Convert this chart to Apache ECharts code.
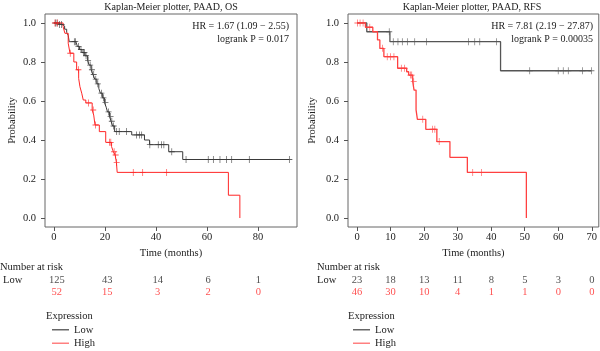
<!DOCTYPE html>
<html>
<head>
<meta charset="utf-8">
<script src="https://cdn.jsdelivr.net/npm/echarts@6/dist/echarts.min.js"></script>
<style>
html, body { margin: 0; padding: 0; background: #fff; }
#chart { width: 600px; height: 351px; }
</style>
</head>
<body>
<div id="chart"></div>
<script>
// ---- left panel: OS ----
const osTicks = [0, 20, 40, 60, 80];
// [time, survival] at each drop
const osLowSteps = [
  [0, 1.0], [1.5, 0.992], [3.2, 0.984], [4.2, 0.968], [5.0, 0.952], [5.6, 0.936],
  [6.0, 0.904], [8.6, 0.896], [9.2, 0.88], [10.0, 0.864], [11.0, 0.848], [12.2, 0.832],
  [13.2, 0.808], [13.8, 0.784], [14.6, 0.76], [15.3, 0.736], [16.0, 0.712], [16.8, 0.688],
  [17.6, 0.664], [18.2, 0.64], [19.0, 0.616], [19.8, 0.592], [20.5, 0.568], [21.0, 0.544],
  [21.8, 0.52], [22.4, 0.496], [23.0, 0.472], [23.8, 0.443], [30.5, 0.426], [35.5, 0.4],
  [37.5, 0.376], [45.0, 0.34], [50.5, 0.3], [92.3, 0.3]
];
const osLowCensor = [0.6, 1.2, 2.2, 3.0, 8.0, 8.4, 9.6, 10.6, 11.6, 12.0, 12.6, 13.4, 14.2,
  14.9, 15.6, 16.4, 17.2, 18.6, 19.4, 20.2, 21.4, 22.2, 22.7, 23.4, 24.6, 25.6, 28.5, 32.4,
  33.5, 34.4, 37.6, 40.9, 42.2, 43.1, 46.2, 51.8, 60.5, 62.5, 65.1, 67.7, 69.7, 76.6, 92.3];
const osHighSteps = [
  [0, 1.0], [3.6, 0.981], [4.3, 0.947], [5.6, 0.896], [6.3, 0.845], [7.8, 0.8], [8.9, 0.76],
  [9.7, 0.716], [10.2, 0.673], [10.9, 0.64], [11.5, 0.605], [12.5, 0.59], [15.0, 0.554],
  [15.6, 0.528], [16.1, 0.477], [17.8, 0.443], [20.3, 0.388], [22.6, 0.366], [23.3, 0.34],
  [24.0, 0.323], [24.5, 0.285], [24.8, 0.234], [68.4, 0.117], [72.9, 0.0]
];
const osHighCensor = [0.4, 1.4, 6.4, 9.6, 13.5, 15.4, 16.3, 21.8, 22.3, 23.6, 24.2, 24.6,
  31.1, 34.8, 44.2];
const osRiskLow = [125, 43, 14, 6, 1];
const osRiskHigh = [52, 15, 3, 2, 0];

// ---- right panel: RFS ----
const rfsTicks = [0, 10, 20, 30, 40, 50, 60, 70];
const rfsLowSteps = [[0, 1.0], [2.9, 0.955], [9.8, 0.904], [42.8, 0.755], [69.9, 0.755]];
const rfsLowCensor = [9.6, 10.8, 12.2, 13.5, 15.0, 17.2, 20.7, 33.2, 35.1, 36.6, 41.6,
  51.5, 60.0, 61.5, 63.0, 67.2, 69.9];
const rfsHighSteps = [
  [0, 1.0], [2.5, 0.978], [4.7, 0.955], [6.1, 0.913], [6.8, 0.87], [8.0, 0.827],
  [12.1, 0.768], [14.8, 0.75], [15.4, 0.733], [16.6, 0.699], [17.0, 0.656], [17.6, 0.554],
  [18.0, 0.506], [20.5, 0.455], [23.8, 0.392], [27.7, 0.311], [32.9, 0.234], [50.5, 0.0]
];
const rfsHighCensor = [0.1, 0.9, 1.8, 3.8, 7.6, 9.0, 10.0, 11.0, 13.2, 14.2, 15.9, 16.3,
  16.9, 19.6, 22.5, 23.2, 24.5, 34.5, 37.1];
const rfsRiskLow = [23, 18, 13, 11, 8, 5, 3, 0];
const rfsRiskHigh = [46, 30, 10, 4, 1, 1, 0, 0];

const probTicks = [0, 0.2, 0.4, 0.6, 0.8, 1.0];
const riskRows = ['Low', 'High'];

const FONT = '"Liberation Serif", "DejaVu Serif", serif';
const RED = '#ff2626';
const DARK = '#3a3a3a';
const PLUS = 'path://M4.4,0H5.6V10H4.4ZM0,4.4H10V5.6H0Z';

// survival value at time t (step function)
function survAt(steps, t) {
  let v = steps[0][1];
  for (const s of steps) { if (s[0] <= t) v = s[1]; }
  return v;
}

const chart = echarts.init(document.getElementById('chart'));

function plotX(idx, min, max, ticks) {
  return {
    type: 'value', gridIndex: idx, min: min, max: max,
    name: 'Time (months)', nameLocation: 'middle', nameGap: 20,
    nameTextStyle: { fontFamily: FONT, fontSize: 10.5, color: '#222' },
    axisLine: { show: false, onZero: false },
    axisTick: { show: true, length: 4, customValues: ticks, lineStyle: { color: '#555' } },
    axisLabel: { customValues: ticks, margin: 5, fontFamily: FONT, fontSize: 10.5, color: '#222' },
    splitLine: { show: false }
  };
}
function plotY(idx, gap) {
  return {
    type: 'value', gridIndex: idx, min: -0.046, max: 1.046,
    name: 'Probability', nameLocation: 'middle', nameGap: gap, nameRotate: 90,
    nameTextStyle: { fontFamily: FONT, fontSize: 10.5, color: '#222' },
    axisLine: { show: false, onZero: false },
    axisTick: { show: true, length: 4, customValues: probTicks, lineStyle: { color: '#555' } },
    axisLabel: { customValues: probTicks, margin: 9, fontFamily: FONT, fontSize: 10.5, color: '#222',
      formatter: v => v.toFixed(1) },
    splitLine: { show: false }
  };
}
function riskX(idx, min, max) {
  return { type: 'value', gridIndex: idx, min: min, max: max, show: false };
}
function riskY(idx, margin) {
  return {
    type: 'category', gridIndex: idx, data: riskRows, inverse: true,
    axisLine: { show: false }, axisTick: { show: false },
    axisLabel: {
      align: 'left', margin: margin, fontFamily: FONT, fontSize: 10.5,
      formatter: v => v === 'High' ? '{h|High}' : '{l|Low}',
      rich: { h: { color: RED, fontFamily: FONT, fontSize: 10.5 }, l: { color: '#222', fontFamily: FONT, fontSize: 10.5 } }
    }
  };
}

function curve(name, steps, color, width, xi) {
  return {
    name: name, type: 'line', step: 'end', xAxisIndex: xi, yAxisIndex: xi,
    data: steps, showSymbol: false, symbol: 'none',
    lineStyle: { color: color, width: width }, itemStyle: { color: color },
    animation: false, z: 3
  };
}
function censor(steps, times, color, xi) {
  return {
    name: 'censor', type: 'scatter', xAxisIndex: xi, yAxisIndex: xi,
    data: times.map(t => [t, survAt(steps, t)]),
    symbol: PLUS, symbolSize: [6, 7],
    itemStyle: { color: color }, animation: false, z: 4, silent: true
  };
}
function risk(ticks, counts, row, color, xi) {
  return {
    type: 'scatter', xAxisIndex: xi, yAxisIndex: xi,
    data: counts.map((n, i) => [ticks[i], row, n]),
    symbolSize: 1, itemStyle: { color: 'transparent' },
    label: { show: true, position: 'inside', formatter: p => p.value[2],
      color: color, fontFamily: FONT, fontSize: 10.5 },
    animation: false, silent: true
  };
}
function text(x, y, str, align, size) {
  return { type: 'text', x: x, y: y,
    style: { text: str, textAlign: align, textVerticalAlign: 'middle',
      font: (size || 10.5) + 'px ' + FONT, fill: '#222' } };
}
function legendAt(left) {
  return {
    left: left, top: 323, padding: 0, orient: 'vertical', itemWidth: 17, itemHeight: 1.5,
    itemGap: 0, icon: 'rect', selectedMode: false,
    data: [{ name: 'Low', itemStyle: { color: '#666' } }, { name: 'High', itemStyle: { color: '#ff8080' } }],
    textStyle: { fontFamily: FONT, fontSize: 10.5, color: '#222', lineHeight: 13.5 }
  };
}

const option = {
  backgroundColor: '#fff',
  animation: false,
  grid: [
    { left: 45, top: 14, width: 252, height: 213, show: true, borderColor: '#666', borderWidth: 1 },
    { left: 348, top: 14, width: 251, height: 213, show: true, borderColor: '#666', borderWidth: 1 },
    { left: 45, top: 274, width: 252, height: 24 },
    { left: 348, top: 274, width: 251, height: 24 }
  ],
  xAxis: [
    plotX(0, -3.5, 95.3, osTicks),
    plotX(1, -2.7, 72.1, rfsTicks),
    riskX(2, -3.5, 95.3),
    riskX(3, -2.7, 72.1)
  ],
  yAxis: [plotY(0, 27), plotY(1, 30), riskY(2, 45), riskY(3, 31)],
  legend: [legendAt(52), legendAt(353)],
  graphic: [
    text(171, 7, 'Kaplan-Meier plotter, PAAD, OS', 'center', 10),
    text(472, 7, 'Kaplan-Meier plotter, PAAD, RFS', 'center', 10),
    text(289, 26, 'HR = 1.67 (1.09 \u2212 2.55)', 'right', 10),
    text(289, 39, 'logrank P = 0.017', 'right', 10),
    text(593, 26, 'HR = 7.81 (2.19 \u2212 27.87)', 'right', 10),
    text(593, 39, 'logrank P = 0.00035', 'right', 10),
    text(0, 267, 'Number at risk', 'left'),
    text(317, 267, 'Number at risk', 'left'),
    text(46, 316, 'Expression', 'left'),
    text(348, 316, 'Expression', 'left')
  ],
  series: [
    curve('Low', osLowSteps, DARK, 1, 0),
    curve('High', osHighSteps, RED, 1, 0),
    censor(osLowSteps, osLowCensor, DARK, 0),
    censor(osHighSteps, osHighCensor, RED, 0),
    curve('Low', rfsLowSteps, '#555', 1.3, 1),
    curve('High', rfsHighSteps, '#ff4040', 1.3, 1),
    censor(rfsLowSteps, rfsLowCensor, '#555', 1),
    censor(rfsHighSteps, rfsHighCensor, '#ff4040', 1),
    risk(osTicks, osRiskLow, 0, '#222', 2),
    risk(osTicks, osRiskHigh, 1, RED, 2),
    risk(rfsTicks, rfsRiskLow, 0, '#222', 3),
    risk(rfsTicks, rfsRiskHigh, 1, RED, 3)
  ]
};

chart.setOption(option);
</script>
</body>
</html>
